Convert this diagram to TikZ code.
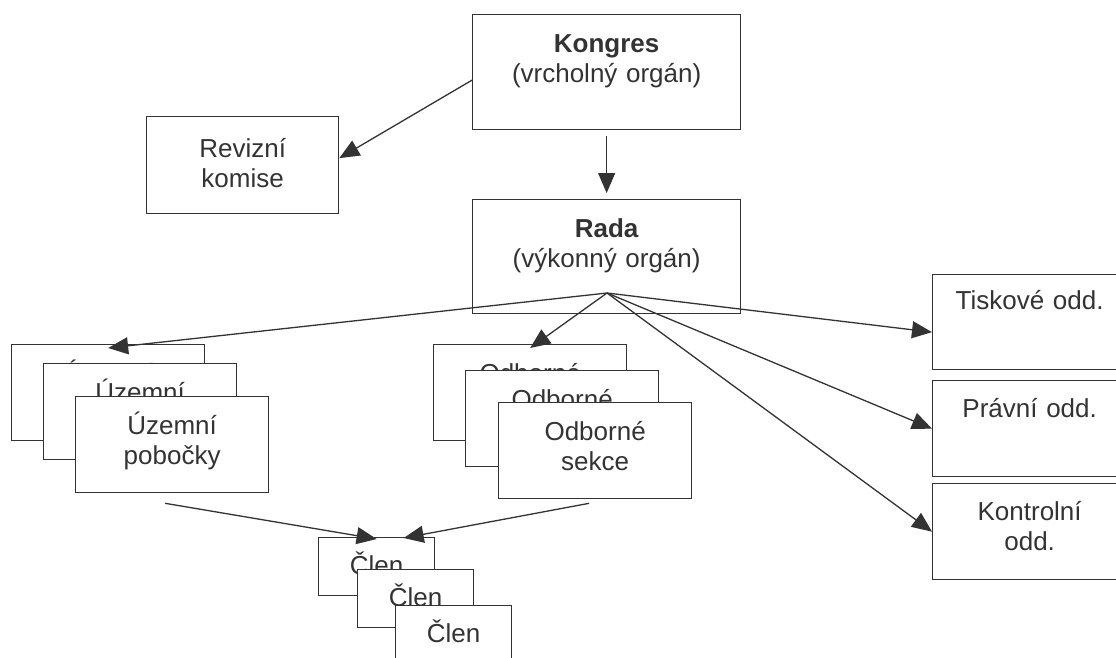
\documentclass[tikz,border=0pt]{standalone}
\usepackage{fontspec}
\setmainfont{Liberation Sans}
\usepackage{tikz}
\usetikzlibrary{arrows.meta,calc}
\definecolor{ink}{RGB}{51,51,51}

\begin{document}
\begin{tikzpicture}[x=1pt,y=-1pt,>={Triangle[length=20pt,width=17pt]},
  font=\fontsize{26}{30}\selectfont,
  org/.style={draw=ink, fill=white, line width=1.3pt, inner sep=0pt, align=center, anchor=north west, text=ink},
  big/.style={org, text width=193pt, text height=38pt, text depth=58pt},
  small/.style={org, text width=116pt, text height=37pt, text depth=21pt},
  link/.style={->, draw=ink, line width=1.3pt}]
\useasboundingbox (0,0) rectangle (1116,657);
% vedeni
\node[org, text width=268pt, text height=38pt, text depth=77pt] (kongres) at (472,14) {\textbf{Kongres}\\(vrcholný orgán)};
\node[org, text width=268pt, text height=38pt, text depth=76pt] (rada) at (472,199) {\textbf{Rada}\\(výkonný orgán)};
\node[org, text width=192pt, text height=41pt, text depth=56pt] (reviz) at (146,116) {Revizní\\komise};
\coordinate (hub) at (607,293);
% oddeleni
\node[org, text width=194pt, text height=35pt, text depth=60pt] (tisk) at (932,274) {Tiskové odd.};
\node[org, text width=194pt, text height=37pt, text depth=59pt] (prav) at (932,380) {Právní odd.};
\node[org, text width=194pt, text height=37pt, text depth=59pt] (kontr) at (932,483) {Kontrolní\\odd.};
% pobocky a sekce
\node[big] (uz1) at (11,344) {Územní\\pobočky};
\node[big] (uz2) at (43,363) {Územní\\pobočky};
\node[big] (uz3) at (75,396) {Územní\\pobočky};
\node[big] (odb1) at (433,344) {Odborné\\sekce};
\node[big] (odb2) at (465,370) {Odborné\\sekce};
\node[big] (odb3) at (498,402) {Odborné\\sekce};
% clenove
\node[small] (clen1) at (318,537) {Člen};
\node[small] (clen2) at (357,569) {Člen};
\node[small] (clen3) at (395,605) {Člen};
% sipky
\draw[link] ($(kongres.south)+(0,6)$) -- ($(rada.north)+(0,-6)$);
\draw[link] ($(kongres.west)+(0,8)$) -- ($(reviz.east)+(0,-7)$);
\draw[link] (hub) -- ($(uz1.north)+(0,4)$);
\draw[link] (hub) -- ($(odb1.north)+(0,4)$);
\draw[link] (hub) -- ($(tisk.west)+(0,10)$);
\draw[link] (hub) -- (prav.west);
\draw[link] (hub) -- (kontr.west);
\draw[link] ($(uz3.south)+(-7,10)$) -- ($(clen1.north)+(0,2)$);
\draw[link] ($(odb3.south)+(-6,4)$) -- ($(clen1.north)+(27,1)$);
\end{tikzpicture}
\end{document}
